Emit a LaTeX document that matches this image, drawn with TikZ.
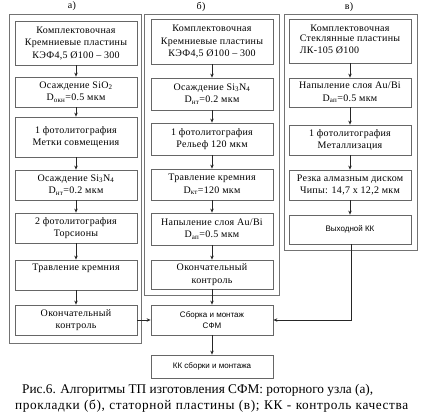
\documentclass[tikz,border=0pt]{standalone}
\usepackage{fontspec}
\setmainfont{Liberation Serif}
\newfontfamily\bxfont[LetterSpace=3]{Liberation Serif}
\newfontfamily\capwide[LetterSpace=4.5]{Liberation Serif}
\newfontfamily\sansfnt{Liberation Sans}
\usetikzlibrary{arrows.meta}
\begin{document}
\begin{tikzpicture}[x=1pt,y=-1pt,
 box/.style={draw=black!60, line width=0.8pt, minimum width=122pt, inner sep=0pt, align=center, font=\bxfont\fontsize{10}{12.5}\selectfont},
 sbox/.style={box, font=\sansfnt\fontsize{8}{11}\selectfont},
 frm/.style={draw=black!55, line width=0.8pt},
 arr/.style={draw=black!85, line width=0.7pt, -{Stealth[length=4pt,width=3.5pt]}},
 lbl/.style={font=\bxfont\fontsize{10}{12}\selectfont},
 captxt/.style={anchor=west, inner sep=0pt, font=\fontsize{13.3}{15}\selectfont}]
\useasboundingbox (0,0) rectangle (424,420);
% frames
\draw[frm] (9,14) rectangle (141,343);
\draw[frm] (144,14) rectangle (279,295);
\draw[frm] (284,14) rectangle (417,250);
% labels
\node[lbl] (la) at (72,6.5) {а)};
\node[lbl] (lb) at (201,7) {б)};
\node[lbl] (lc) at (349,7) {в)};
% column a
\node[box, minimum height=44pt] (a1) at (76,43) {Комплектовочная\\Кремниевые пластины\\КЭФ4,5 Ø100 – 300};
\node[box, minimum height=30pt] (a2) at (76,92) {Осаждение SiO\textsubscript{2}\\D\textsubscript{окн}=0.5 мкм};
\node[box, minimum height=40pt] (a3) at (76,137) {1 фотолитография\\Метки совмещения};
\node[box, minimum height=30pt] (a4) at (76,185) {Осаждение Si\textsubscript{3}N\textsubscript{4}\\D\textsubscript{нт}=0.2 мкм};
\node[box, minimum height=30pt] (a5) at (76,228) {2 фотолитография\\Торсионы};
\node[box, minimum height=30pt] (a6) at (76,275) {Травление кремния\\\strut};
\node[box, minimum height=30pt] (a7) at (76,320) {Окончательный\\контроль};
% column b
\node[box, minimum height=45pt] (b1) at (212,41.5) {Комплектовочная\\Кремниевые пластины\\КЭФ4,5 Ø100 – 300};
\node[box, minimum height=32pt] (b2) at (212,94) {Осаждение Si\textsubscript{3}N\textsubscript{4}\\D\textsubscript{нт}=0.2 мкм};
\node[box, minimum height=32pt] (b3) at (212,139) {1 фотолитография\\Рельеф 120 мкм};
\node[box, minimum height=31pt] (b4) at (212,184.5) {Травление кремния\\D\textsubscript{кт}=120 мкм};
\node[box, minimum height=32pt] (b5) at (212,229) {Напыление слоя Au/Bi\\D\textsubscript{ап}=0.5 мкм};
\node[box, minimum height=29pt] (b6) at (212,274.5) {Окончательный\\контроль};
% column c
\node[box, minimum height=44pt] (c1) at (350,41) {Комплектовочная\\\begin{tabular}{@{}l@{}}Стеклянные пластины\\ЛК-105 Ø100\end{tabular}};
\node[box, minimum height=29pt] (c2) at (350,92.5) {Напыление слоя Au/Bi\\D\textsubscript{ап}=0.5 мкм};
\node[box, minimum height=30pt] (c3) at (350,140) {1 фотолитография\\Металлизация};
\node[box, minimum height=30pt] (c4) at (350,185) {Резка алмазным диском\\Чипы: 14,7 х 12,2 мкм};
\node[sbox, minimum height=29pt] (c5) at (350,229.5) {Выходной КК};
% bottom
\node[sbox, minimum height=30pt] (d1) at (212,320) {Сборка и монтаж\\СФМ};
\node[sbox, minimum height=23pt] (d2) at (212,366.5) {КК сборки и монтажа};
\coordinate (cc) at (351.5,320);
% arrows
\draw[arr] (a1) -- (a2);
\draw[arr] (a2) -- (a3);
\draw[arr] (a3) -- (a4);
\draw[arr] (a4) -- (a5);
\draw[arr] (a5) -- (a6);
\draw[arr] (a6) -- (a7);
\draw[arr] (a7) -- (d1);
\draw[arr] (b1) -- (b2);
\draw[arr] (b2) -- (b3);
\draw[arr] (b3) -- (b4);
\draw[arr] (b4) -- (b5);
\draw[arr] (b5) -- (b6);
\draw[arr] (b6) -- (d1);
\draw[arr] (c1) -- (c2);
\draw[arr] (c2) -- (c3);
\draw[arr] (c3) -- (c4);
\draw[arr] (c4) -- (c5);
\draw[arr] (c5.south -| cc) -- (cc) -- (d1.east);
\draw[arr] (d1) -- (d2);
% caption
\node[captxt] (cap1) at (22,390) {Рис.6. Алгоритмы ТП изготовления СФМ: роторного узла (а),};
\node[captxt] (cap2) at (15,406) {\capwide\makebox[393pt][s]{прокладки (б), статорной пластины (в); КК - контроль качества}};
\end{tikzpicture}
\end{document}
